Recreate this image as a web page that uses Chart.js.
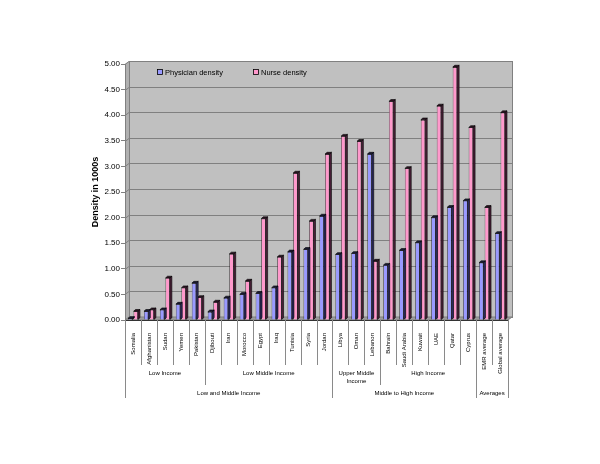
<!DOCTYPE html>
<html><head><meta charset="utf-8">
<script src="https://cdn.jsdelivr.net/npm/chart.js@4.4.1/dist/chart.umd.min.js"></script>
<style>html,body{margin:0;padding:0;background:#fff}canvas{display:block}</style>
</head><body>
<canvas id="c" width="600" height="464"></canvas>
<script>
const categories = ['Somalia','Afghanistan','Sudan','Yemen','Pakistan','Djibouti','Iran','Morocco','Egypt','Iraq','Tunisia','Syria','Jordan','Libya','Oman','Lebanon','Bahrain','Saudi Arabia','Kuwait','UAE','Qatar','Cyprus','EMR average','Global average'];
const physician = [0.03,0.17,0.20,0.31,0.72,0.16,0.43,0.50,0.52,0.63,1.33,1.38,2.03,1.28,1.30,3.24,1.07,1.36,1.51,2.00,2.20,2.33,1.12,1.69];
const nurse = [0.17,0.20,0.82,0.63,0.44,0.35,1.29,0.76,1.98,1.23,2.87,1.93,3.24,3.59,3.49,1.15,4.27,2.96,3.91,4.18,4.94,3.76,2.20,4.05];
const seriesNames = ['Physician density','Nurse density'];
const yTitle = 'Density in 1000s';
const level2Labels = [['Low Income'],['Low Middle Income'],['Upper Middle','Income'],['High Income'],['']];
const level2Spans = [[0,4],[5,12],[13,15],[16,21],[22,23]];
const level3Labels = ['Low and Middle Income','Middle to High Income','Averages'];
const level3Spans = [[0,12],[13,21],[22,23]];

const FONT = "'Liberation Sans', Arial, Helvetica, sans-serif";
const FRONT = ['#9999ff','#ff99cc'];
const SIDE = ['#2b2b5e','#4a2038'];
const TOP = ['#1c1c3a','#2e1424'];
const DX = 4, DY = 3;      // wall depth
const BDX = 2, BDY = 1.8;  // bar depth

function poly(ctx, pts){ctx.beginPath();ctx.moveTo(pts[0][0],pts[0][1]);for(let i=1;i<pts.length;i++)ctx.lineTo(pts[i][0],pts[i][1]);ctx.closePath();}

const wallPlugin = {
  id:'wall',
  beforeDatasetsDraw(chart){
    const {ctx, chartArea:a, scales:{y}} = chart;
    ctx.save();
    ctx.lineWidth = 1;
    ctx.fillStyle = '#b0b0b0';
    poly(ctx,[[a.left,a.top],[a.left+DX,a.top-DY],[a.left+DX,a.bottom-DY],[a.left,a.bottom]]);
    ctx.fill();
    ctx.fillStyle = '#c0c0c0';
    ctx.fillRect(a.left+DX, a.top-DY, a.right-a.left, a.bottom-a.top);
    ctx.strokeStyle = '#808080';
    y.ticks.forEach(t=>{
      const py = Math.round(y.getPixelForValue(t.value))+0.5;
      ctx.beginPath();ctx.moveTo(a.left,py);ctx.lineTo(a.left+DX,py-DY);ctx.lineTo(a.right+DX,py-DY);ctx.stroke();
    });
    ctx.strokeRect(Math.round(a.left+DX)+0.5, Math.round(a.top-DY)+0.5, a.right-a.left, a.bottom-a.top);
    ctx.fillStyle = '#9c9c9c';
    poly(ctx,[[a.left,a.bottom],[a.left+DX,a.bottom-DY],[a.right+DX,a.bottom-DY],[a.right,a.bottom]]);
    ctx.fill();
    ctx.strokeStyle = '#808080';
    ctx.stroke();
    ctx.beginPath();ctx.moveTo(a.left+0.5,a.top);ctx.lineTo(a.left+0.5,a.bottom);ctx.stroke();
    ctx.restore();
  },
  afterDatasetDraw(chart,args){
    const ctx = chart.ctx, i = args.index;
    ctx.save();
    ctx.lineWidth = 0.6;
    ctx.strokeStyle = '#000';
    args.meta.data.forEach(bar=>{
      const {x,y,base,width} = bar.getProps(['x','y','base','width'], true);
      const l = x-width/2, r = x+width/2;
      ctx.fillStyle = SIDE[i];
      poly(ctx,[[r,y],[r+BDX,y-BDY],[r+BDX,base-BDY],[r,base]]);
      ctx.fill();ctx.stroke();
      ctx.fillStyle = TOP[i];
      poly(ctx,[[l,y],[l+BDX,y-BDY],[r+BDX,y-BDY],[r,y]]);
      ctx.fill();ctx.stroke();
    });
    ctx.restore();
  },
  afterDraw(chart){
    const {ctx, chartArea:a, scales:{x}} = chart;
    ctx.save();
    const w = x.getPixelForValue(1)-x.getPixelForValue(0);
    const edge = i => x.getPixelForValue(i)-w/2;
    const y0 = a.bottom;
    const r1 = y0+45, r2 = y0+65, r3 = y0+78;
    ctx.strokeStyle = '#333';
    ctx.lineWidth = 1;
    ctx.beginPath();ctx.moveTo(a.left,y0+0.5);ctx.lineTo(a.right,y0+0.5);ctx.stroke();
    const b3 = new Set(), b2 = new Set();
    level3Spans.forEach(s=>{b3.add(s[0]);b3.add(s[1]+1);});
    level2Spans.forEach((s,k)=>{ if(level2Labels[k].join('')!==''){b2.add(s[0]);b2.add(s[1]+1);} });
    ctx.strokeStyle = '#8a8a8a';
    for(let i=0;i<=categories.length;i++){
      const px = Math.round(edge(i))+0.5;
      const end = b3.has(i)?r3:(b2.has(i)?r2:r1);
      ctx.beginPath();ctx.moveTo(px,y0);ctx.lineTo(px,end);ctx.stroke();
    }
    ctx.fillStyle = '#000';
    ctx.font = '6px '+FONT;
    ctx.textAlign = 'center';
    ctx.textBaseline = 'middle';
    level2Spans.forEach((s,k)=>{
      const cx = (edge(s[0])+edge(s[1]+1))/2;
      level2Labels[k].forEach((t,j)=>ctx.fillText(t,cx,y0+53+j*8.5));
    });
    level3Spans.forEach((s,k)=>{
      const cx = (edge(s[0])+edge(s[1]+1))/2;
      ctx.fillText(level3Labels[k],cx,y0+73);
    });
    ctx.font = '7.5px '+FONT;
    ctx.textAlign = 'left';
    const lx = [157,253];
    seriesNames.forEach((n,k)=>{
      ctx.fillStyle = FRONT[k];
      ctx.fillRect(lx[k]+0.5,69.5,5,5);
      ctx.strokeStyle = '#000';ctx.lineWidth=0.8;
      ctx.strokeRect(lx[k]+0.5,69.5,5,5);
      ctx.fillStyle = '#000';
      ctx.fillText(n,lx[k]+8,72.5);
    });
    ctx.restore();
  }
};

new Chart(document.getElementById('c'),{
  type:'bar',
  data:{
    labels:categories,
    datasets:[
      {label:seriesNames[0],data:physician,backgroundColor:FRONT[0],borderColor:'#000',borderWidth:0.6},
      {label:seriesNames[1],data:nurse,backgroundColor:FRONT[1],borderColor:'#000',borderWidth:0.6}
    ]
  },
  options:{
    responsive:false,
    animation:false,
    devicePixelRatio:1,
    layout:{padding:{left:0,right:92,top:64,bottom:0}},
    plugins:{legend:{display:false},tooltip:{enabled:false}},
    datasets:{bar:{categoryPercentage:0.7,barPercentage:0.78}},
    scales:{
      x:{
        grid:{display:false},
        border:{display:false},
        ticks:{autoSkip:false,minRotation:90,maxRotation:90,padding:5,color:'#000',font:{family:FONT,size:6}},
        afterFit(s){s.height=144;}
      },
      y:{
        min:0,max:5,
        grid:{drawOnChartArea:false,tickLength:4,color:'#808080'},
        border:{display:true,color:'#808080'},
        ticks:{stepSize:0.5,padding:1,color:'#000',font:{family:FONT,size:8},callback:v=>v.toFixed(2)},
        title:{display:true,text:yTitle,color:'#000',font:{family:FONT,size:9,weight:'bold'},padding:{top:90,bottom:0}},
        afterFit(s){s.width=125;}
      }
    }
  },
  plugins:[wallPlugin]
});
</script>
</body></html>
